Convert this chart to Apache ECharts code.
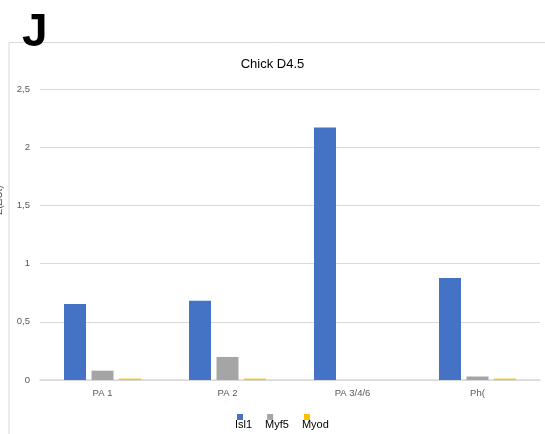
<!DOCTYPE html>
<html><head><meta charset="utf-8">
<script src="https://cdn.jsdelivr.net/npm/echarts@6/dist/echarts.min.js"></script>
<style>html,body{margin:0;padding:0;background:#fff}#c{width:545px;height:434px}</style>
</head><body><div id="c"></div>
<script>
const categories = ['PA 1', 'PA 2', 'PA 3/4/6', 'Ph('];
const isl1 = [0.653, 0.68, 2.17, 0.876];
const myf5 = [0.08, 0.198, 0, 0.03];
const myod = [0.012, 0.012, 0, 0.012];
const seriesNames = ['Isl1', 'Myf5', 'Myod'];
const colors = ['#4472C4', '#A5A5A5', '#FFC000'];

const chart = echarts.init(document.getElementById('c'), null, {renderer: 'canvas'});
const mk = (name, data, color) => ({
  name, type: 'bar', data, barWidth: 22, barGap: '25%',
  itemStyle: {color}
});
chart.setOption({
  animation: false,
  title: {
    text: 'Chick D4.5', left: 'center', top: 53,
    textStyle: {fontFamily: 'Liberation Sans', fontSize: 13, fontWeight: 'normal', color: '#000'}
  },
  graphic: [
    {type: 'polyline', shape: {points: [[9, 440], [9, 42.5], [550, 42.5]]},
     style: {stroke: '#d9d9d9', lineWidth: 1, fill: null}},
    {type: 'text', left: 22, top: 10,
     style: {text: 'J', font: 'bold 46px "Liberation Sans"', fill: '#000'}},
    {type: 'text', x: -6, y: 215, rotation: Math.PI / 2,
     style: {text: 'Σ(ΔCt)', font: '10px "Liberation Sans"', fill: '#595959'}}
  ],
  legend: {
    data: seriesNames, top: 397, left: 230,
    itemWidth: 6, itemHeight: 6, itemGap: 13,
    formatter: name => '\n' + name,
    textStyle: {fontFamily: 'Liberation Sans', fontSize: 11, lineHeight: 15, color: '#000', padding: [0, 0, 0, -13]},
    icon: 'rect'
  },
  grid: {left: 40, right: 5, top: 89, bottom: 54},
  xAxis: {
    type: 'category', data: categories,
    axisLine: {lineStyle: {color: '#d9d9d9', width: 1.5}},
    axisTick: {show: false},
    axisLabel: {color: '#595959', fontSize: 9.5, fontFamily: 'Liberation Sans', margin: 8}
  },
  yAxis: {
    type: 'value', min: 0, max: 2.5, interval: 0.5,
    axisLine: {show: false}, axisTick: {show: false},
    splitLine: {lineStyle: {color: '#d9d9d9', width: 1.2}},
    axisLabel: {
      color: '#595959', fontSize: 9.5, fontFamily: 'Liberation Sans', margin: 10,
      formatter: v => String(v).replace('.', ',')
    }
  },
  series: [mk(seriesNames[0], isl1, colors[0]), mk(seriesNames[1], myf5, colors[1]), mk(seriesNames[2], myod, colors[2])]
});
</script></body></html>
